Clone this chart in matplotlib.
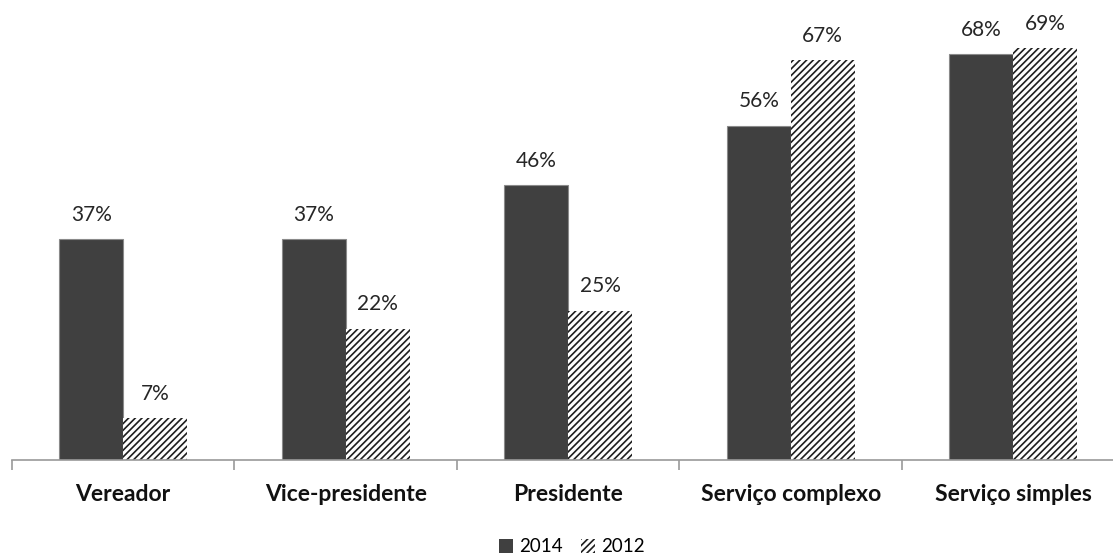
import numpy as np
import matplotlib.pyplot as plt

plt.rcParams['hatch.linewidth'] = 1.2

# dados
categorias = ['Vereador', 'Vice-presidente', 'Presidente', 'Serviço complexo', 'Serviço simples']
v2014 = [37, 37, 46, 56, 68]
v2012 = [7, 22, 25, 67, 69]

x = np.arange(len(categorias))
w = 0.2875

fig = plt.figure(figsize=(11.13, 5.55), dpi=100)
ax = fig.add_axes([12 / 1113, (555 - 460) / 555, 1101 / 1113, 460 / 555])

b1 = ax.bar(x - w / 2, v2014, w, color='#404040', edgecolor='#8a8a8a', linewidth=0.8, label='2014')
b2 = ax.bar(x + w / 2, v2012, w, color='white', edgecolor='#1e1e1e', linewidth=0,
            hatch='/////', label='2012')

for barras, vals in ((b1, v2014), (b2, v2012)):
    for b, v in zip(barras, vals):
        ax.annotate(f'{v}%', (b.get_x() + b.get_width() / 2, v), xytext=(0, 17.5),
                    textcoords='offset points', ha='center', va='center',
                    fontsize=15, color='#262626', family='Lato')

for s in ('top', 'right', 'left'):
    ax.spines[s].set_visible(False)
ax.spines['bottom'].set_color('#9a9a9a')
ax.spines['bottom'].set_linewidth(1.2)
ax.set_yticks([])

ax.set_xticks(x)
ax.set_xticklabels(categorias, fontsize=16.5, fontweight='bold', family='Lato', color='#111111')
ax.tick_params(axis='x', which='major', length=0, pad=17)
ax.set_xticks(np.arange(-0.5, 5.0, 1.0), minor=True)
ax.tick_params(axis='x', which='minor', length=7, width=1.2, color='#9a9a9a', direction='out')

# limites depois dos ticks (set_xticks expande a vista)
ax.set_xlim(-0.5, -0.5 + 1101 / 222.5)
ax.set_ylim(0, 460 / 5.97)

leg = fig.legend(handles=[b1, b2], loc='center', bbox_to_anchor=(572 / 1113, 1 - 547 / 555),
                 ncol=2, frameon=False, handlelength=0.75, handleheight=0.75,
                 handletextpad=0.3, columnspacing=1.0, prop={'family': 'Lato', 'size': 13.5})
leg.legend_handles[0].set_edgecolor('none')

fig.savefig('out.png', dpi=100)
